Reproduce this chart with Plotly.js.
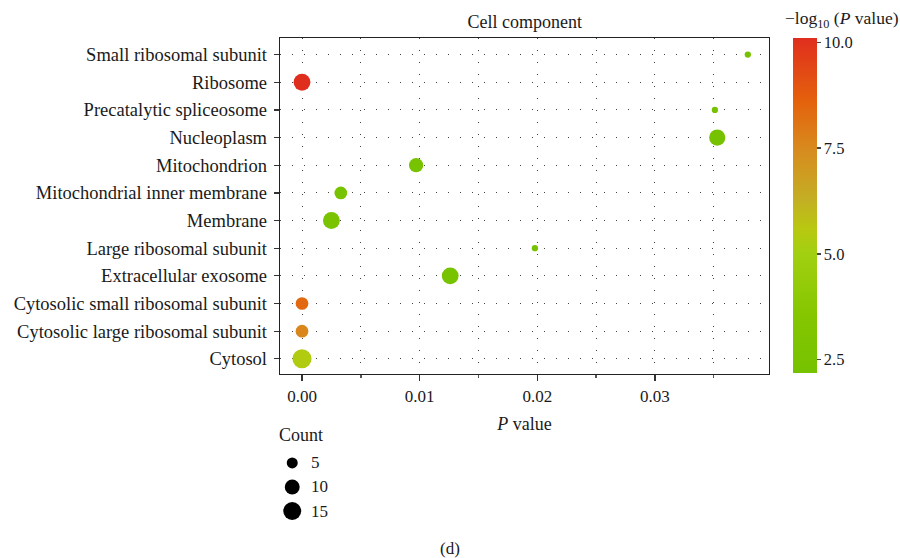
<!DOCTYPE html>
<html>
<head>
<meta charset="utf-8">
<script src="https://cdn.plot.ly/plotly-3.0.1.min.js"></script>
<style>html,body{margin:0;padding:0;background:#fff;}#chart{width:900px;height:558px;}</style>
</head>
<body>
<div id="chart"></div>
<script>
// Categories (top to bottom as in the picture)
const terms = [
  "Small ribosomal subunit",
  "Ribosome",
  "Precatalytic spliceosome",
  "Nucleoplasm",
  "Mitochondrion",
  "Mitochondrial inner membrane",
  "Membrane",
  "Large ribosomal subunit",
  "Extracellular exosome",
  "Cytosolic small ribosomal subunit",
  "Cytosolic large ribosomal subunit",
  "Cytosol"
];
// P value (x axis)
const pValues = [0.0379, 0.0000, 0.0351, 0.0353, 0.0097, 0.0033, 0.0025, 0.0198, 0.0126, 0.0000, 0.0000, 0.0000];
// -log10(P value) (colour)
const negLogP = [2.2, 10.1, 2.25, 2.3, 2.35, 2.4, 2.45, 2.25, 2.35, 8.4, 7.6, 5.4];
// Gene count (size)
const counts = [1, 13, 1, 12, 9, 7, 13, 1, 13, 7, 7, 17];

// Size legend
const legendCounts = [5, 10, 15];
const legendLabels = ["5", "10", "15"];

const colorTicks = [2.5, 5.0, 7.5, 10.0];
const xTicks = [0, 0.01, 0.02, 0.03];

function diam(c) { return Math.sqrt(19.5 + 20.3 * c); }

const FONT = "Liberation Serif, Times New Roman, serif";
const TXT = "#1a1a1a";

const main = {
  type: "scatter",
  mode: "markers",
  x: pValues,
  y: terms,
  xaxis: "x",
  yaxis: "y",
  marker: {
    size: counts.map(diam),
    sizemode: "diameter",
    color: negLogP,
    cmin: 2.18,
    cmax: 10.1,
    colorscale: [
      [0.0, "#76c200"],
      [0.167, "#84c600"],
      [0.356, "#a2d010"],
      [0.43, "#b8c810"],
      [0.52, "#c4ae24"],
      [0.67, "#d88a1e"],
      [0.81, "#e4620c"],
      [1.0, "#e02e1e"]
    ],
    line: {width: 0},
    opacity: 1,
    colorbar: {
      thickness: 24,
      thicknessmode: "pixels",
      len: 335,
      lenmode: "pixels",
      x: 1.049,
      xanchor: "left",
      xref: "paper",
      y: 0.6775,
      yanchor: "middle",
      xpad: 0,
      ypad: 0,
      outlinewidth: 0,
      tickvals: colorTicks,
      tickformat: ".1f",
      ticks: "outside",
      ticklen: 4,
      tickwidth: 1.5,
      tickcolor: "#444",
      tickfont: {family: FONT, size: 16.5, color: TXT}
    }
  },
  showlegend: false,
  hoverinfo: "x+y"
};

const legendTrace = {
  type: "scatter",
  mode: "markers",
  x: legendCounts.map(() => 0),
  y: legendCounts.map((c, i) => i),
  xaxis: "x2",
  yaxis: "y2",
  marker: {size: legendCounts.map(diam), sizemode: "diameter", color: "rgb(0,0,0)", opacity: 1, line: {width: 0}},
  showlegend: false,
  hoverinfo: "skip"
};

const annotations = [
  {text: "−log<sub>10</sub> (<i>P</i> value)", xref: "paper", yref: "paper", x: 1.150, y: 1.036,
   xanchor: "center", yanchor: "middle", showarrow: false, font: {family: FONT, size: 17.5, color: TXT}},
  {text: "Count", xref: "paper", yref: "paper", x: -0.006, y: 0.2365,
   xanchor: "left", yanchor: "middle", showarrow: false, font: {family: FONT, size: 18, color: TXT}},
  {text: "(d)", xref: "paper", yref: "paper", x: 0.3476, y: 0.019,
   xanchor: "center", yanchor: "middle", showarrow: false, font: {family: FONT, size: 17, color: TXT}}
];
legendLabels.forEach((lab, i) => {
  annotations.push({text: lab, xref: "x2", yref: "y2", x: 1.4, y: i, xanchor: "left", yanchor: "middle",
    showarrow: false, font: {family: FONT, size: 17, color: TXT}});
});

const layout = {
  width: 900,
  height: 558,
  margin: {l: 280, r: 131, t: 38, b: 0},
  paper_bgcolor: "#fff",
  plot_bgcolor: "#fff",
  font: {family: FONT, size: 16, color: TXT},
  title: {text: "Cell component", x: 0.583, xanchor: "center", xref: "container", y: 0.962, yanchor: "middle",
          yref: "container", font: {family: FONT, size: 18, color: TXT}},
  xaxis: {
    domain: [0, 1],
    anchor: "y",
    range: [-0.00187, 0.0397],
    tickvals: xTicks,
    tickformat: ".2f",
    ticks: "outside",
    ticklen: 6,
    tickwidth: 1.5,
    tickcolor: "#333",
    tickfont: {family: FONT, size: 17, color: TXT},
    showline: true,
    linecolor: "#222",
    linewidth: 1.3,
    mirror: true,
    showgrid: true,
    gridcolor: "#444",
    gridwidth: 1,
    griddash: "1px,11px",
    minor: {dtick: 0.005, tick0: 0, ticks: "outside", ticklen: 3, tickcolor: "#555", showgrid: true,
            gridcolor: "#444", gridwidth: 1, griddash: "1px,11px"},
    zeroline: false,
    title: {text: "<i>P</i> value", font: {family: FONT, size: 18, color: TXT}, standoff: 12}
  },
  yaxis: {
    domain: [0.3538, 1],
    anchor: "x",
    type: "category",
    categoryorder: "array",
    categoryarray: terms.slice().reverse(),
    range: [-0.55, 11.6],
    ticks: "outside",
    ticklen: 5,
    tickwidth: 1.3,
    tickcolor: "#333",
    ticklabelstandoff: 3,
    tickfont: {family: FONT, size: 18.5, color: TXT},
    showline: true,
    linecolor: "#222",
    linewidth: 1.3,
    mirror: true,
    showgrid: true,
    gridcolor: "#444",
    gridwidth: 1,
    griddash: "1px,11px",
    zeroline: false
  },
  xaxis2: {domain: [0, 0.1], anchor: "y2", range: [-1, 3], visible: false, fixedrange: true},
  yaxis2: {domain: [0.0673, 0.2058], anchor: "x2", range: [2.5, -0.5], visible: false, fixedrange: true},
  annotations: annotations,
  showlegend: false
};

Plotly.newPlot("chart", [main, legendTrace], layout, {displayModeBar: false, staticPlot: true});
</script>
</body>
</html>
